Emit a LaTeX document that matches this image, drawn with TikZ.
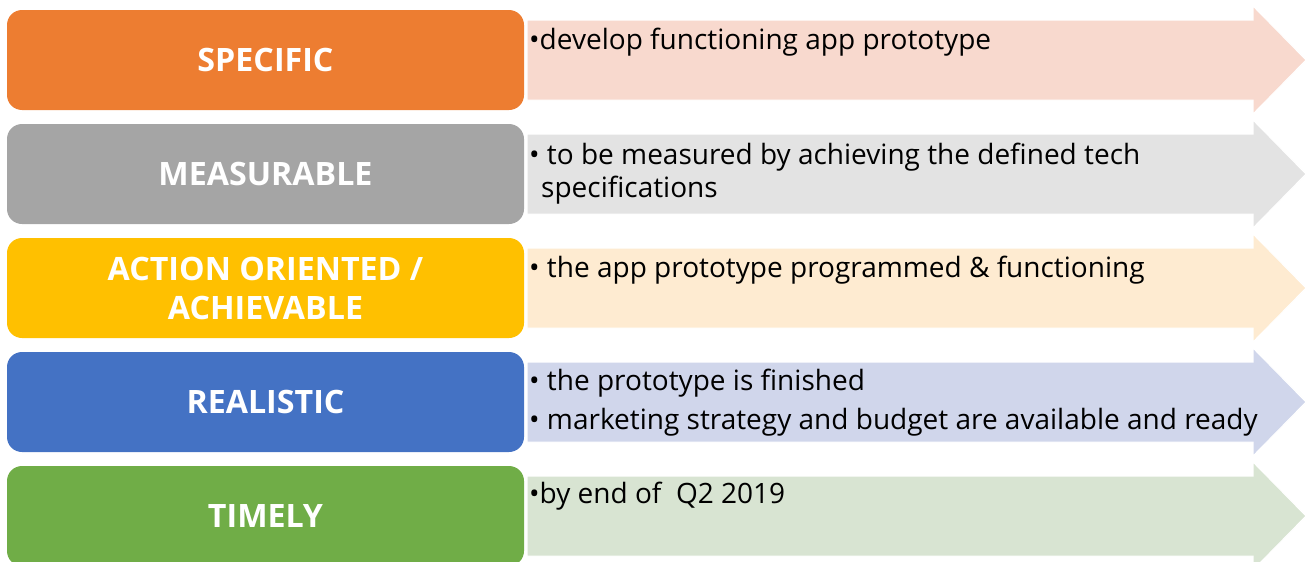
\documentclass[tikz,border=0pt]{standalone}
\usepackage{fontspec}
\setmainfont{Open Sans}
\definecolor{cOrange}{HTML}{ED7D31}
\definecolor{cGray}{HTML}{A5A5A5}
\definecolor{cGold}{HTML}{FFC000}
\definecolor{cBlue}{HTML}{4472C4}
\definecolor{cGreen}{HTML}{70AD47}
\definecolor{lOrange}{HTML}{F8D9CE}
\definecolor{lGray}{HTML}{E3E3E3}
\definecolor{lGold}{HTML}{FEEBD1}
\definecolor{lBlue}{HTML}{D0D6EB}
\definecolor{lGreen}{HTML}{D8E4D2}
\tikzset{
  labelbox/.style={rounded corners=15pt},
  labeltext/.style={text=white, font=\fontsize{32.2}{39}\selectfont\bfseries, align=center},
  bodytext/.style={anchor=base west, inner sep=0pt, font=\fontsize{28}{33}\selectfont, text=black},
  arrowshape/.style={draw=white, line width=1pt}
}
% one row: #1 top edge, #2 dark colour, #3 light colour, #4 name
\newcommand{\smartrow}[4]{%
  \fill[#2, labelbox] (7,#1) rectangle (524,#1+100);
  \fill[#3, arrowshape] (527,#1+10) -- (1253,#1+10) -- (1253,#1-4) -- (1306,#1+50)
     -- (1253,#1+104) -- (1253,#1+90) -- (527,#1+90) -- cycle;
  \coordinate (#4) at (265.5,#1+50);
}
\begin{document}
\begin{tikzpicture}[x=1pt,y=-1pt]
\useasboundingbox (0,0) rectangle (1306,562);
\smartrow{10}{cOrange}{lOrange}{r1}
\smartrow{124}{cGray}{lGray}{r2}
\smartrow{238}{cGold}{lGold}{r3}
\smartrow{352}{cBlue}{lBlue}{r4}
\smartrow{466}{cGreen}{lGreen}{r5}

\node[labeltext] (l1) at (r1) {SPECIFIC};
\node[labeltext] (l2) at (r2) {MEASURABLE};
\node[labeltext] (l3) at (r3) {ACTION ORIENTED /\\ACHIEVABLE};
\node[labeltext] (l4) at (r4) {REALISTIC};
\node[labeltext] (l5) at (r5) {TIMELY};

\node[bodytext] (t1) at (529,49) {•develop functioning app prototype};
\node[bodytext] (t2a) at (529,164) {• to be measured by achieving the defined tech};
\node[bodytext] (t2b) at (541,197) {specifications};
\node[bodytext] (t3) at (529,277) {• the app prototype programmed \& functioning};
\node[bodytext] (t4a) at (529,390) {• the prototype is finished};
\node[bodytext] (t4b) at (529,429) {• marketing strategy and budget are available and ready};
\node[bodytext] (t5) at (529,503) {•by end of \ Q2 2019};
\end{tikzpicture}
\end{document}
